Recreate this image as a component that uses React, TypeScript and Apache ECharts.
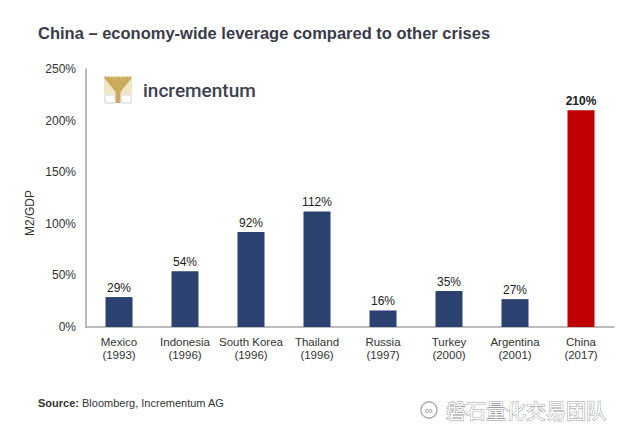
import React, { useEffect, useRef } from "react";
import * as echarts from "echarts";

const categories = [
  "Mexico\n(1993)",
  "Indonesia\n(1996)",
  "South Korea\n(1996)",
  "Thailand\n(1996)",
  "Russia\n(1997)",
  "Turkey\n(2000)",
  "Argentina\n(2001)",
  "China\n(2017)",
];
const values = [29, 54, 92, 112, 16, 35, 27, 210];
const highlightIndex = 7;
const yTicks = { min: 0, max: 250, interval: 50 };

const FONT = "'Liberation Sans', Arial, Helvetica, sans-serif";
const NAVY = "#2b4170";
const RED = "#c00000";
const GOLD = "#c9ab5a";

export default function App() {
  const ref = useRef<HTMLDivElement>(null);
  useEffect(() => {
    if (!ref.current) return;
    const chart = echarts.init(ref.current, null, { renderer: "svg" });
    const branchTops = [105, 108, 111, 114, 117, 119, 122, 125, 128, 131];
    const branches = branchTops.map((x) => ({
      type: "line",
      shape: { x1: 118, y1: 93, x2: x, y2: 77 },
      style: { stroke: GOLD, lineWidth: 2.4 },
    }));
    chart.setOption({
      animation: false,
      backgroundColor: "#ffffff",
      textStyle: { fontFamily: FONT },
      grid: { left: 86, right: 26, top: 69, bottom: 104, containLabel: false },
      xAxis: {
        type: "category",
        data: categories,
        axisLine: { show: true, lineStyle: { color: "#a6a6a6", width: 1.5 } },
        axisTick: { show: false },
        axisLabel: {
          color: "#333333",
          fontSize: 11.5,
          lineHeight: 13,
          margin: 8,
          interval: 0,
          fontFamily: FONT,
        },
      },
      yAxis: {
        type: "value",
        min: yTicks.min,
        max: yTicks.max,
        interval: yTicks.interval,
        axisLine: { show: true, lineStyle: { color: "#a6a6a6", width: 1.5 } },
        axisTick: { show: false },
        splitLine: { show: false },
        axisLabel: {
          color: "#333333",
          fontSize: 12,
          margin: 10,
          formatter: "{value}%",
          fontFamily: FONT,
        },
      },
      series: [
        {
          type: "bar",
          barWidth: 27,
          data: values.map((v, i) => ({
            value: v,
            itemStyle: { color: i === highlightIndex ? RED : NAVY },
            label: {
              show: true,
              position: "top",
              distance: 3,
              formatter: "{c}%",
              color: "#222222",
              fontSize: 12,
              fontWeight: i === highlightIndex ? "bold" : "normal",
              fontFamily: FONT,
            },
          })),
        },
      ],
      graphic: [
        {
          type: "text",
          left: 38,
          top: 24,
          style: {
            text: "China – economy-wide leverage compared to other crises",
            fill: "#3a3b4a",
            font: `bold 16.5px ${FONT}`,
          },
        },
        {
          type: "text",
          x: 30,
          y: 213,
          rotation: Math.PI / 2,
          style: {
            text: "M2/GDP",
            fill: "#333333",
            font: `12px ${FONT}`,
            align: "center",
            verticalAlign: "middle",
          },
        },
        {
          type: "group",
          children: [
            {
              type: "rect",
              shape: { x: 104, y: 76, width: 28, height: 18 },
              style: { fill: "#efe6c8" },
            },
            ...branches,
            {
              type: "rect",
              shape: { x: 115.5, y: 86, width: 5, height: 17 },
              style: { fill: GOLD },
            },
            {
              type: "rect",
              shape: { x: 105, y: 95, width: 10, height: 8 },
              style: { fill: "none", stroke: "#d0d0d0", lineWidth: 1 },
            },
            {
              type: "rect",
              shape: { x: 121, y: 95, width: 10, height: 8 },
              style: { fill: "none", stroke: "#d0d0d0", lineWidth: 1 },
            },
          ],
        },
        {
          type: "text",
          x: 143,
          y: 90,
          style: {
            text: "incrementum",
            fill: "#3d4150",
            font: `500 19px Roboto, ${FONT}`,
            verticalAlign: "middle",
          },
        },
        {
          type: "text",
          x: 38,
          y: 403,
          style: {
            text: "{b|Source:} Bloomberg, Incrementum AG",
            fill: "#333333",
            font: `11px ${FONT}`,
            verticalAlign: "middle",
            rich: {
              b: { fontWeight: "bold", fontSize: 11, fill: "#333333", fontFamily: FONT },
            },
          },
        },
        {
          type: "circle",
          shape: { cx: 429, cy: 410, r: 8 },
          style: { fill: "none", stroke: "#a0a0a0", lineWidth: 1.2 },
        },
        {
          type: "text",
          x: 429,
          y: 410,
          style: {
            text: "∞",
            fill: "#a0a0a0",
            font: `11px ${FONT}`,
            align: "center",
            verticalAlign: "middle",
          },
        },
        {
          type: "text",
          x: 446,
          y: 410,
          style: {
            text: "磐石量化交易团队",
            fill: "#ffffff",
            stroke: "#9a9a9a",
            lineWidth: 1,
            font: `20px 'Noto Sans CJK SC', sans-serif`,
            verticalAlign: "middle",
          },
        },
      ],
    });
    return () => chart.dispose();
  }, []);
  return (
    <div
      ref={ref}
      style={{ position: "absolute", left: 0, top: 0, width: 640, height: 431 }}
    />
  );
}
